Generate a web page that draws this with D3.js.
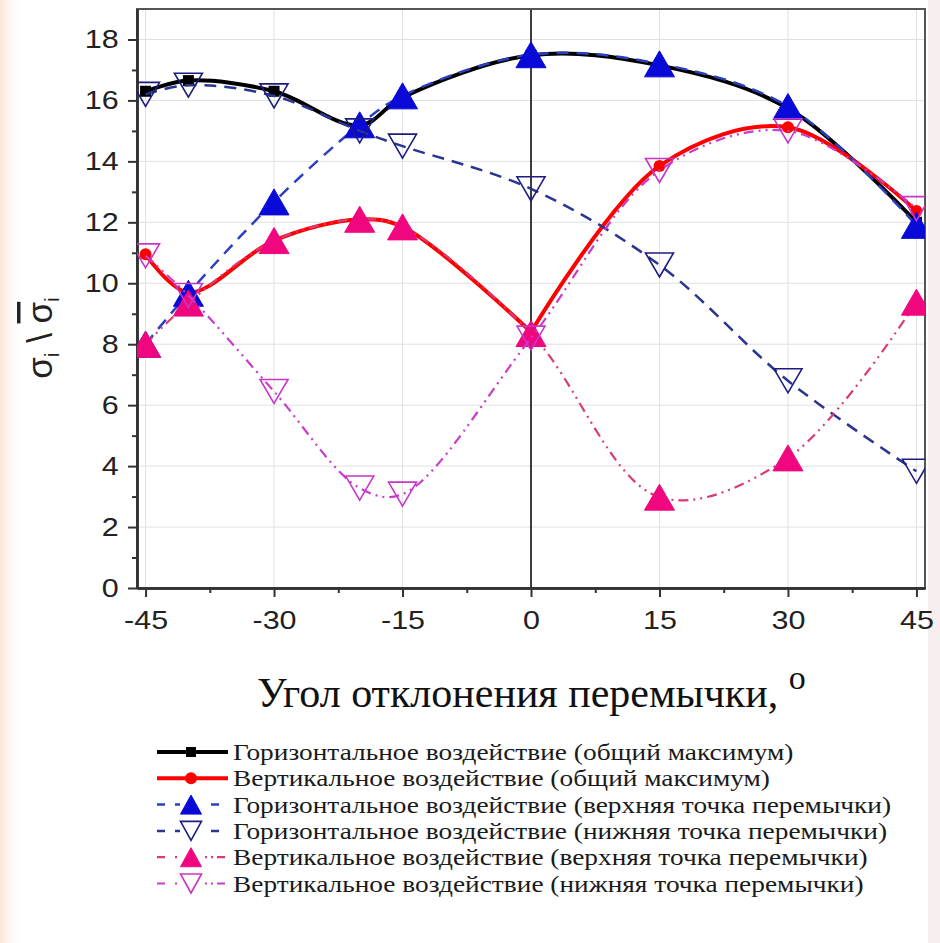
<!DOCTYPE html>
<html>
<head>
<meta charset="utf-8">
<script src="https://cdn.jsdelivr.net/npm/d3@7"></script>
<style>
  body { margin: 0; background: #fff; }
  svg { display: block; }
</style>
</head>
<body>
<div id="chart"></div>
<script>
// data
var angles = [-45, -40, -30, -20, -15, 0, 15, 30, 45];
var horizMax = [16.3, 16.65, 16.3, 15.18, 16.1, 17.48, 17.15, 15.74, 12.0];
var vertMax = [10.95, 9.7, 11.4, 12.1, 11.85, 8.4, 13.85, 15.12, 12.37];
var horizTop = [8.0, 9.67, 12.67, 15.2, 16.15, 17.5, 17.2, 15.8, 11.9];
var horizBottom = [16.2, 16.5, 16.15, 15.0, 14.5, 13.1, 10.6, 6.8, 3.83];
var vertTop = [8.0, 9.35, 11.4, 12.1, 11.85, 8.35, 2.98, 4.27, 9.38];
var vertBottom = [10.9, 9.6, 6.45, 3.28, 3.08, 8.2, 13.7, 15.0, 12.45];

var xTicks = [-45, -30, -15, 0, 15, 30, 45];
var yTicks = [0, 2, 4, 6, 8, 10, 12, 14, 16, 18];

var seriesNames = [
    'Горизонтальное воздействие (общий максимум)',
    'Вертикальное воздействие (общий максимум)',
    'Горизонтальное воздействие (верхняя точка перемычки)',
    'Горизонтальное воздействие (нижняя точка перемычки)',
    'Вертикальное воздействие (верхняя точка перемычки)',
    'Вертикальное воздействие (нижняя точка перемычки)'
];

var svgWidth = 940;
var svgHeight = 943;

// plot frame
var plotLeft = 137, plotRight = 925, plotTop = 9, plotBottom = 588;

var svg = d3.select('#chart')
    .append('svg')
    .attr('width', svgWidth)
    .attr('height', svgHeight);

var defs = svg.append('defs');

// faint tint on the page edges
var grad = defs.append('linearGradient').attr('id', 'edgeTint');
grad.append('stop').attr('offset', '0%').attr('stop-color', '#f9e6da');
grad.append('stop').attr('offset', '100%').attr('stop-color', '#ffffff').attr('stop-opacity', 0);
svg.append('rect').attr('x', 0).attr('y', 0).attr('width', 24).attr('height', svgHeight)
    .attr('fill', 'url(#edgeTint)');
svg.append('rect').attr('x', 928).attr('y', 0).attr('width', 12).attr('height', svgHeight)
    .attr('fill', '#f6eeec');

defs.append('clipPath').attr('id', 'plotClip')
    .append('rect')
    .attr('x', plotLeft).attr('y', plotTop)
    .attr('width', plotRight - plotLeft).attr('height', plotBottom - plotTop);

var x = d3.scaleLinear().domain([-46, 46]).range([plotLeft, plotRight]);
var y = d3.scaleLinear().domain([0, 19]).range([plotBottom, plotTop]);

// grid
var grid = svg.append('g');
grid.selectAll('.vg').data(xTicks).enter().append('line')
    .attr('x1', d => x(d)).attr('x2', d => x(d))
    .attr('y1', plotTop).attr('y2', plotBottom)
    .attr('stroke', '#e0e0e0').attr('stroke-width', 1);
grid.selectAll('.hg').data(yTicks).enter().append('line')
    .attr('x1', plotLeft).attr('x2', plotRight)
    .attr('y1', d => y(d)).attr('y2', d => y(d))
    .attr('stroke', '#e0e0e0').attr('stroke-width', 1);

// vertical zero line
svg.append('line')
    .attr('x1', x(0)).attr('x2', x(0))
    .attr('y1', plotTop).attr('y2', plotBottom)
    .attr('stroke', '#000').attr('stroke-width', 1.5);

// frame
svg.append('rect')
    .attr('x', plotLeft).attr('y', plotTop)
    .attr('width', plotRight - plotLeft).attr('height', plotBottom - plotTop)
    .attr('fill', 'none').attr('stroke', '#555').attr('stroke-width', 2);

// axes
var xAxis = d3.axisBottom(x).tickValues(xTicks).tickSize(9).tickPadding(14).tickSizeOuter(0);
var xMinor = d3.axisBottom(x).tickValues([-37.5, -22.5, -7.5, 7.5, 22.5, 37.5]).tickSize(5).tickFormat('').tickSizeOuter(0);
var yAxis = d3.axisLeft(y).tickValues(yTicks).tickSize(9).tickPadding(6).tickSizeOuter(0);
var yMinor = d3.axisLeft(y).tickValues([1, 3, 5, 7, 9, 11, 13, 15, 17]).tickSize(5).tickFormat('').tickSizeOuter(0);

function styleAxis(g) {
    g.select('.domain').attr('stroke', '#333').attr('stroke-width', 2.5);
    g.selectAll('.tick line').attr('stroke', '#333').attr('stroke-width', 2);
    g.selectAll('.tick text')
        .attr('fill', '#222')
        .attr('transform', 'scale(1.22,1)')
        .style('font-family', '"Liberation Sans", Arial, sans-serif')
        .style('font-size', '25px');
}

svg.append('g').attr('transform', `translate(0,${plotBottom})`).call(xAxis).call(styleAxis)
    .selectAll('.tick text').text(d => d < 0 ? '-' + Math.abs(d) : d);
svg.append('g').attr('transform', `translate(0,${plotBottom})`).call(xMinor).call(styleAxis);
svg.append('g').attr('transform', `translate(${plotLeft},0)`).call(yAxis).call(styleAxis);
svg.append('g').attr('transform', `translate(${plotLeft},0)`).call(yMinor).call(styleAxis);

// marker shapes
function triUp(w, h) { return `M0,${-h / 2}L${w / 2},${h / 2}L${-w / 2},${h / 2}Z`; }
function triDown(w, h) { return `M0,${h / 2}L${w / 2},${-h / 2}L${-w / 2},${-h / 2}Z`; }

var series = [
    { name: seriesNames[0], values: horizMax, color: '#000', width: 4, dash: null, legendDash: null,
      marker: 'square', fill: '#000', split: false },
    { name: seriesNames[1], values: vertMax, color: '#ff0000', width: 4, dash: null, legendDash: null,
      marker: 'circle', fill: '#ff0000', split: true },
    { name: seriesNames[2], values: horizTop, color: '#2b3fc0', width: 2.5, dash: '12,8', legendDash: '8,10',
      marker: 'up', fill: '#0a0ad8', stroke: '#0a0ad8', split: false },
    { name: seriesNames[3], values: horizBottom, color: '#2a3590', width: 2.5, dash: '12,8', legendDash: '8,10',
      marker: 'down', fill: 'none', stroke: '#1c1c80', split: false },
    { name: seriesNames[4], values: vertTop, color: '#d93a78', width: 2.2, dash: '10,5,2,5,2,5', legendDash: '8,10,2,4,2,4',
      marker: 'up', fill: '#f0077f', stroke: '#f0077f', split: false },
    { name: seriesNames[5], values: vertBottom, color: '#c83ccc', width: 2.2, dash: '10,5,2,5,2,5', legendDash: '8,10,2,4,2,4',
      marker: 'down', fill: 'none', stroke: '#c637c8', split: false }
];

var line = d3.line()
    .x(d => x(d.a))
    .y(d => y(d.v))
    .curve(d3.curveCatmullRom.alpha(0.5));

var plot = svg.append('g').attr('clip-path', 'url(#plotClip)');

function drawMarker(g, s, big) {
    if (s.marker === 'square') {
        var a = big ? 11 : 10;
        g.append('rect').attr('x', -a / 2).attr('y', -a / 2).attr('width', a).attr('height', a)
            .attr('fill', s.fill);
    } else if (s.marker === 'circle') {
        g.append('circle').attr('r', 6).attr('fill', s.fill);
    } else if (s.marker === 'up') {
        g.append('path').attr('d', big ? triUp(30, 26) : triUp(21, 19))
            .attr('fill', s.fill).attr('stroke', s.stroke).attr('stroke-width', 1);
    } else {
        g.append('path').attr('d', big ? triDown(28, 24) : triDown(21, 19))
            .attr('fill', 'none').attr('stroke', s.stroke).attr('stroke-width', 1.6);
    }
}

series.forEach(function(s) {
    var pts = angles.map((a, i) => ({ a: a, v: s.values[i] }));
    var parts = s.split ? [pts.filter(d => d.a <= 0), pts.filter(d => d.a >= 0)] : [pts];
    parts.forEach(function(p) {
        plot.append('path')
            .datum(p)
            .attr('d', line)
            .attr('fill', 'none')
            .attr('stroke', s.color)
            .attr('stroke-width', s.width)
            .attr('stroke-dasharray', s.dash)
            .attr('stroke-linejoin', 'round');
    });
    plot.selectAll(null)
        .data(pts)
        .enter()
        .append('g')
        .attr('transform', d => `translate(${x(d.a)},${y(d.v)})`)
        .each(function() { drawMarker(d3.select(this), s, true); });
});

// y axis label
var yLabel = svg.append('text')
    .attr('transform', 'translate(52,338) rotate(-90)')
    .attr('text-anchor', 'middle')
    .style('font-family', '"Liberation Sans", Arial, sans-serif')
    .style('font-size', '35px')
    .attr('fill', '#222');
yLabel.append('tspan').text('σ');
yLabel.append('tspan').attr('dy', 7).style('font-size', '20px').text('i');
yLabel.append('tspan').attr('dy', -7).text(' \\ ');
yLabel.append('tspan').style('text-decoration', 'overline').text('σ');
yLabel.append('tspan').attr('dy', 7).style('font-size', '20px').text('i');

// x axis label
var xLabel = svg.append('text')
    .attr('x', 257)
    .attr('y', 707)
    .style('font-family', '"Liberation Serif", "Times New Roman", serif')
    .style('font-size', '42px')
    .attr('fill', '#111');
xLabel.append('tspan').text('Угол отклонения перемычки, ');
xLabel.append('tspan').attr('dy', -18).style('font-size', '34px').text('o');

// legend
var legend = svg.append('g');
var rows = legend.selectAll('g')
    .data(series)
    .enter()
    .append('g')
    .attr('transform', (d, i) => `translate(0,${752 + i * 26.3})`);

rows.append('line')
    .attr('x1', 157).attr('x2', 228)
    .attr('stroke', d => d.color)
    .attr('stroke-width', d => d.width)
    .attr('stroke-dasharray', d => d.legendDash);

rows.append('g')
    .attr('transform', 'translate(191,0)')
    .each(function(d) {
        var g = d3.select(this);
        if (d.marker === 'up' || d.marker === 'down') {
            g.append('rect').attr('x', -11).attr('y', -11).attr('width', 22).attr('height', 22).attr('fill', '#fff');
        }
        drawMarker(g, d, false);
    });

rows.append('text')
    .attr('transform', 'translate(233,8) scale(1.19,1)')
    .style('font-family', '"Liberation Serif", "Times New Roman", serif')
    .style('font-size', '23px')
    .attr('fill', '#1a1a1a')
    .text(d => d.name);
</script>
</body>
</html>
